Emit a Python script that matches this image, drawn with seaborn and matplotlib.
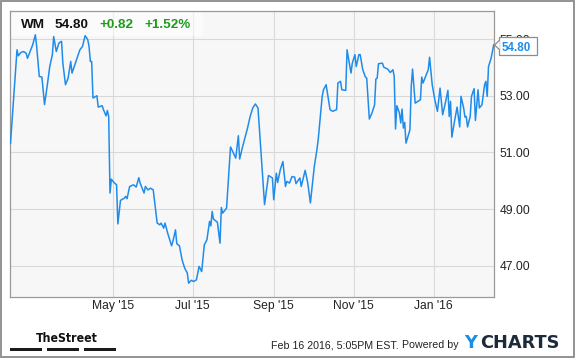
import matplotlib
matplotlib.use("Agg")
import matplotlib.pyplot as plt
from matplotlib.patches import Rectangle, Polygon
from matplotlib.lines import Line2D
import pandas as pd
import seaborn as sns

# WM daily close
dates = [
    "2015-02-12", "2015-02-17", "2015-02-18", "2015-02-20", "2015-02-22", "2015-02-24",
    "2015-02-25", "2015-02-27", "2015-03-01", "2015-03-03", "2015-03-04", "2015-03-06",
    "2015-03-08", "2015-03-10", "2015-03-12", "2015-03-14", "2015-03-16", "2015-03-17",
    "2015-03-19", "2015-03-21", "2015-03-23", "2015-03-24", "2015-03-26", "2015-03-28",
    "2015-03-30", "2015-03-31", "2015-04-03", "2015-04-06", "2015-04-08", "2015-04-10",
    "2015-04-12", "2015-04-13", "2015-04-14", "2015-04-15", "2015-04-16", "2015-04-19",
    "2015-04-20", "2015-04-23", "2015-04-24", "2015-04-26", "2015-04-27", "2015-04-28",
    "2015-04-29", "2015-04-30", "2015-05-02", "2015-05-04", "2015-05-05", "2015-05-07",
    "2015-05-10", "2015-05-11", "2015-05-12", "2015-05-14", "2015-05-17", "2015-05-19",
    "2015-05-21", "2015-05-22", "2015-05-25", "2015-05-26", "2015-05-28", "2015-05-30",
    "2015-06-01", "2015-06-04", "2015-06-06", "2015-06-07", "2015-06-09", "2015-06-10",
    "2015-06-12", "2015-06-15", "2015-06-16", "2015-06-18", "2015-06-19", "2015-06-21",
    "2015-06-23", "2015-06-25", "2015-06-27", "2015-06-28", "2015-06-30", "2015-07-02",
    "2015-07-04", "2015-07-06", "2015-07-08", "2015-07-10", "2015-07-12", "2015-07-14",
    "2015-07-15", "2015-07-16", "2015-07-17", "2015-07-20", "2015-07-22", "2015-07-23",
    "2015-07-24", "2015-07-27", "2015-07-30", "2015-07-31", "2015-08-03", "2015-08-05",
    "2015-08-06", "2015-08-08", "2015-08-10", "2015-08-12", "2015-08-14", "2015-08-16",
    "2015-08-18", "2015-08-20", "2015-08-25", "2015-08-28", "2015-08-31", "2015-09-01",
    "2015-09-03", "2015-09-04", "2015-09-06", "2015-09-08", "2015-09-10", "2015-09-11",
    "2015-09-13", "2015-09-15", "2015-09-17", "2015-09-18", "2015-09-20", "2015-09-21",
    "2015-09-22", "2015-09-25", "2015-09-27", "2015-09-29", "2015-10-02", "2015-10-04",
    "2015-10-05", "2015-10-08", "2015-10-09", "2015-10-11", "2015-10-14", "2015-10-16",
    "2015-10-19", "2015-10-20", "2015-10-22", "2015-10-23", "2015-10-26", "2015-10-27",
    "2015-10-30", "2015-10-31", "2015-11-02", "2015-11-03", "2015-11-05", "2015-11-06",
    "2015-11-08", "2015-11-10", "2015-11-11", "2015-11-13", "2015-11-15", "2015-11-17",
    "2015-11-18", "2015-11-19", "2015-11-20", "2015-11-23", "2015-11-24", "2015-11-27",
    "2015-11-29", "2015-12-01", "2015-12-02", "2015-12-03", "2015-12-04", "2015-12-06",
    "2015-12-07", "2015-12-08", "2015-12-09", "2015-12-10", "2015-12-11", "2015-12-14",
    "2015-12-15", "2015-12-16", "2015-12-18", "2015-12-20", "2015-12-22", "2015-12-23",
    "2015-12-24", "2015-12-26", "2015-12-28", "2015-12-29", "2015-12-31", "2016-01-02",
    "2016-01-04", "2016-01-06", "2016-01-08", "2016-01-10", "2016-01-12", "2016-01-13",
    "2016-01-14", "2016-01-15", "2016-01-17", "2016-01-19", "2016-01-21", "2016-01-22",
    "2016-01-24", "2016-01-25", "2016-01-26", "2016-01-27", "2016-01-29", "2016-01-30",
    "2016-02-01", "2016-02-02", "2016-02-04", "2016-02-05", "2016-02-07", "2016-02-09",
    "2016-02-10", "2016-02-11", "2016-02-12", "2016-02-14", "2016-02-16",
]
prices = [
    51.31, 54.62, 54.41, 54.53, 54.56, 54.50,
    54.32, 54.56, 54.80, 55.15, 54.74, 53.68,
    53.66, 52.69, 53.33, 54.03, 54.45, 55.09,
    54.56, 54.86, 54.92, 54.15, 53.39, 53.62,
    54.21, 53.80, 54.21, 54.62, 54.74, 55.12,
    54.98, 54.74, 54.21, 54.21, 52.92, 53.00,
    52.60, 52.65, 52.51, 52.29, 52.48, 52.27,
    49.57, 50.06, 49.94, 49.86, 48.48, 49.31,
    49.39, 49.45, 49.37, 49.80, 49.86, 49.78,
    50.11, 49.92, 49.57, 49.80, 49.68, 49.74,
    49.68, 48.51, 48.45, 48.51, 48.33, 48.51,
    48.16, 47.71, 47.86, 48.27, 47.78, 47.71,
    47.22, 46.92, 46.75, 46.39, 46.49, 46.45,
    46.51, 46.98, 46.80, 47.74, 47.92, 48.57,
    48.41, 48.92, 48.65, 48.54, 47.80, 49.06,
    48.86, 49.04, 51.19, 51.10, 50.80, 51.59,
    50.77, 51.16, 51.51, 51.86, 52.27, 52.57,
    52.71, 52.57, 49.16, 50.19, 50.10, 49.33,
    50.27, 49.94, 50.39, 50.68, 49.80, 49.98,
    49.92, 50.15, 50.13, 49.90, 50.04, 50.10,
    49.80, 50.37, 49.92, 49.22, 50.51, 51.10,
    51.47, 52.98, 53.21, 53.39, 52.51, 52.45,
    52.51, 53.45, 53.51, 53.21, 53.19, 54.62,
    53.80, 54.15, 54.45, 54.03, 54.45, 54.45,
    53.92, 53.66, 53.62, 52.18, 52.39, 52.68,
    53.59, 53.62, 54.13, 54.15, 54.01, 53.94,
    53.82, 53.92, 53.68, 51.83, 52.65, 52.39,
    52.04, 52.53, 51.86, 52.06, 51.33, 51.80,
    53.33, 53.94, 52.74, 52.80, 52.86, 53.66,
    53.45, 53.68, 53.92, 54.36, 53.39, 52.86,
    52.45, 53.27, 52.33, 52.74, 53.19, 52.27,
    52.80, 51.54, 52.09, 52.60, 51.90, 52.98,
    52.57, 52.25, 52.27, 51.90, 52.27, 52.98,
    53.25, 52.13, 53.21, 52.57, 52.68, 53.39,
    53.51, 52.98, 54.03, 54.33, 54.80,
]

tick_dates = ["2015-05-01", "2015-07-01", "2015-09-01", "2015-11-01", "2016-01-01"]
tick_labels = ["May '15", "Jul '15", "Sep '15", "Nov '15", "Jan '16"]
y_ticks = [47.0, 49.0, 51.0, 53.0, 55.0]

ticker = "WM"
last_price = "54.80"
change = "+0.82"
change_pct = "+1.52%"
stamp = "Feb 16 2016, 5:05PM EST."
powered = "Powered by"

df = pd.DataFrame({"date": pd.to_datetime(dates), "price": prices})

sns.set_style("white")
plt.rcParams["font.family"] = ["Liberation Sans", "DejaVu Sans"]

W, H = 575, 358
BLUE = "#1f8ceb"
GREEN = "#1e9b1e"

def fx(px):
    return px / W

def fy(py):
    return 1 - py / H

fig = plt.figure(figsize=(W / 100, H / 100), dpi=100)
ax = fig.add_axes([fx(10.3), fy(296.5), (494.3 - 10.3) / W, (296.5 - 10.7) / H])
ax.set_facecolor("#f7f7f7")

sns.lineplot(data=df, x="date", y="price", ax=ax, color=BLUE, linewidth=1.1, zorder=3)

ax.set_xlim(pd.Timestamp("2015-02-11 21:00"), pd.Timestamp("2016-02-16 10:00"))
ax.set_ylim(45.92, 56.0)
ax.set_xticks(pd.to_datetime(tick_dates))
ax.set_xticklabels(tick_labels)
ax.set_yticks(y_ticks)
ax.set_yticklabels([f"{v:.2f}" for v in y_ticks])
ax.yaxis.tick_right()
ax.tick_params(length=0, labelsize=8.7, colors="#222222")
ax.tick_params(axis="x", pad=2.5)
ax.tick_params(axis="y", pad=3.6)
ax.set_xlabel("")
ax.set_ylabel("")
ax.grid(True, color="#d9d9d9", linewidth=0.8)
ax.set_axisbelow(True)
for s in ax.spines.values():
    s.set_color("#9a9a9a")
    s.set_linewidth(0.9)

# header strip
ax.add_patch(Rectangle((0, (296.5 - 36) / 285.8), (203 - 10.3) / 484, 1,
                       transform=ax.transAxes, facecolor="white", alpha=0.55,
                       edgecolor="none", zorder=2))
hdr = dict(fontsize=9.7, fontweight="bold", va="baseline")
fig.text(fx(21), fy(28.3), ticker, color="#111111", **hdr)
fig.text(fx(55), fy(28.3), last_price, color="#111111", **hdr)
fig.text(fx(99), fy(28.3), change, color=GREEN, **hdr)
fig.text(fx(144), fy(28.3), change_pct, color=GREEN, **hdr)

# last price tag (covers the top of the 55.00 label, as in the source)
fig.add_artist(Rectangle((fx(499.3), fy(55)), (536.7 - 499.3) / W, (55 - 36.7) / H,
                         transform=fig.transFigure, facecolor="white",
                         edgecolor="#8c8c8c", linewidth=0.9, zorder=5))
fig.add_artist(Polygon([(fx(494.6), fy(45)), (fx(499.8), fy(40.5)), (fx(499.8), fy(49.5))],
                       closed=True, transform=fig.transFigure, facecolor="white",
                       edgecolor="none", zorder=6))
fig.add_artist(Line2D([fx(499.3), fx(494.6), fx(499.3)], [fy(40.5), fy(45), fy(49.5)],
                      transform=fig.transFigure, color="#8c8c8c", linewidth=0.9, zorder=7))
fig.text(fx(501.5), fy(50.7), last_price, color=BLUE, fontsize=8.4, fontweight="bold",
         va="baseline", zorder=8)

# footer
fig.text(fx(36), fy(341.7), "TheStreet", fontsize=8.8, fontweight="bold",
         family="DejaVu Sans", fontstretch="condensed", color="#111111",
         va="baseline")
for x0, x1 in [(10.3, 42.2), (46.9, 78.8), (83.6, 115.9)]:
    fig.add_artist(Rectangle((fx(x0), fy(350.7)), (x1 - x0) / W, 3 / H,
                             transform=fig.transFigure, facecolor="#1a1a1a",
                             edgecolor="none"))
fig.text(fx(270.6), fy(348.3), stamp, fontsize=7.7, color="#222222", va="baseline")
fig.text(fx(402.3), fy(348.3), powered, fontsize=7.7, color="#222222", va="baseline")
fig.text(fx(464), fy(348.3), "Y", fontsize=12.8, fontweight="bold", family="DejaVu Sans",
         color="#1a8fe3", va="baseline")
fig.text(fx(480), fy(348.3), "CHARTS", fontsize=12.8, fontweight="bold", family="DejaVu Sans",
         color="#1c2a3a", va="baseline")

# outer frame
fig.add_artist(Rectangle((fx(0.8), fy(357.2)), 1 - 1.6 / W, 1 - 1.6 / H,
                         transform=fig.transFigure, facecolor="none",
                         edgecolor="#8a8a8a", linewidth=1.3))

fig.savefig("out.png", dpi=100, facecolor="white")
